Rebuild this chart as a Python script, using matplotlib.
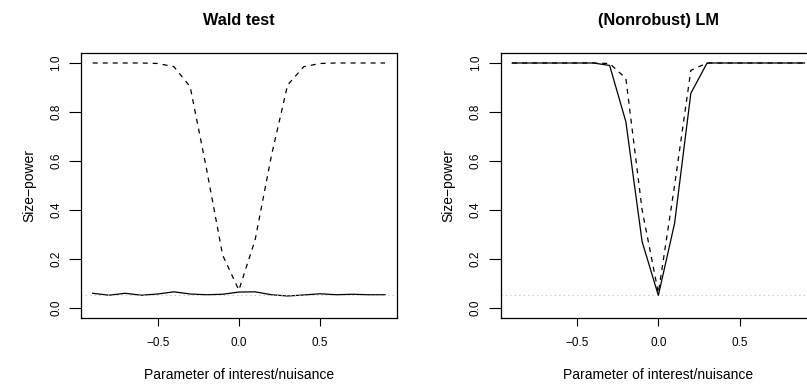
import numpy as np
import matplotlib.pyplot as plt

plt.rcParams['font.family'] = ['Liberation Sans', 'DejaVu Sans']

x = np.round(np.arange(-0.9, 0.91, 0.1), 1)

wald_solid = [0.059, 0.051, 0.059, 0.051, 0.056, 0.065, 0.056, 0.053, 0.055, 0.064,
              0.065, 0.053, 0.048, 0.052, 0.057, 0.053, 0.055, 0.053, 0.053]
wald_dashed = [1.0, 1.0, 1.0, 1.0, 0.998, 0.985, 0.903, 0.57, 0.215, 0.072,
               0.277, 0.62, 0.91, 0.985, 0.998, 1.0, 1.0, 1.0, 1.0]

lm_solid = [1.0, 1.0, 1.0, 1.0, 1.0, 1.0, 0.99, 0.76, 0.27, 0.05,
            0.345, 0.876, 1.0, 1.0, 1.0, 1.0, 1.0, 1.0, 1.0]
lm_dashed = [1.0, 1.0, 1.0, 1.0, 1.0, 1.0, 0.998, 0.937, 0.40, 0.06,
             0.50, 0.97, 1.0, 1.0, 1.0, 1.0, 1.0, 1.0, 1.0]

nivel = 0.05

titluri = ['Wald test', '(Nonrobust) LM']
serii = [(wald_solid, wald_dashed), (lm_solid, lm_dashed)]
pozitii = [0.1004, 0.6202]

fig = plt.figure(figsize=(8.07, 3.85), dpi=100)

for stanga, titlu, (solid, dashed) in zip(pozitii, titluri, serii):
    ax = fig.add_axes([stanga, 0.1753, 0.3912, 0.6865])
    ax.plot(x, solid, color='black', linewidth=0.9)
    ax.plot(x, dashed, color='black', linewidth=0.9, dashes=(4, 4))
    ax.axhline(nivel, color='#bebebe', linewidth=0.8, dashes=(1, 3))
    ax.set_xlim(-0.972, 0.972)
    ax.set_ylim(-0.04, 1.04)
    ax.set_xticks([-0.5, 0.0, 0.5])
    ax.set_xticklabels(['\u22120.5', '0.0', '0.5'])
    ax.set_yticks([0.0, 0.2, 0.4, 0.6, 0.8, 1.0])
    ax.set_yticklabels(['0.0', '0.2', '0.4', '0.6', '0.8', '1.0'], rotation=90, va='center')
    ax.tick_params(axis='x', length=6, width=0.8, pad=8, labelsize=8.5)
    ax.tick_params(axis='y', length=8.6, width=0.8, pad=5, labelsize=8.5)
    for s in ax.spines.values():
        s.set_linewidth(0.9)
    ax.set_xlabel('Parameter of interest/nuisance', fontsize=10, labelpad=14)
    ax.set_ylabel('Size\u2212power', fontsize=10, labelpad=10)
    ax.set_title(titlu, fontsize=11.7, fontweight='bold', pad=20)

plt.savefig('out.png', dpi=100)
